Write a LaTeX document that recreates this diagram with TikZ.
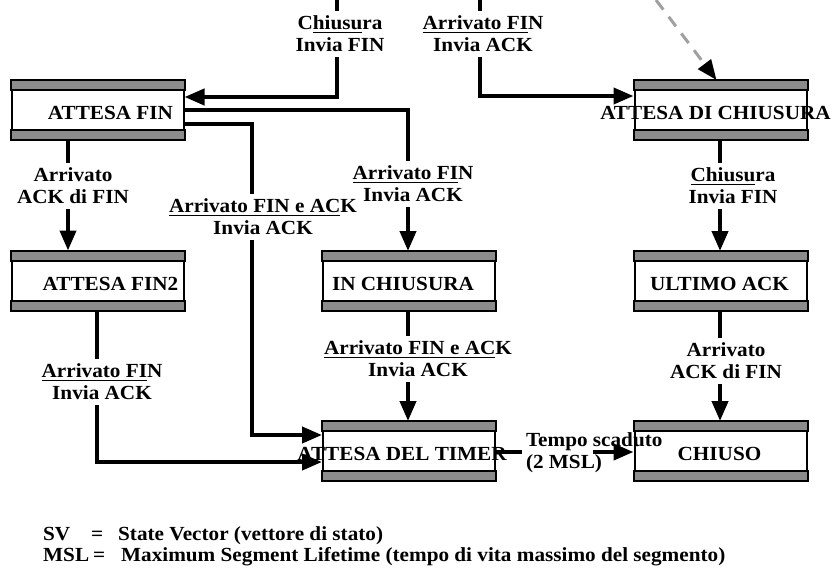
\documentclass[tikz,border=0pt]{standalone}
\usepackage{fontspec}
\setmainfont{Liberation Serif}[FakeStretch=1.06]
\usetikzlibrary{arrows.meta,calc}
\definecolor{barg}{HTML}{8C8C8C}
\definecolor{dashg}{HTML}{A0A0A0}
\newcommand\ulx[1]{\setbox0\hbox{#1}\rlap{\rule[-3pt]{\wd0}{1.3pt}}\box0}
\newcommand\shiftx[2]{\makebox[0pt]{\kern#1 #2}}
\begin{document}
\begin{tikzpicture}[x=1pt,y=-1pt,
  every node/.style={font=\fontsize{20}{22}\selectfont\bfseries},
  conn/.style={line width=4pt},
  arr/.style={conn,-{Triangle[length=20pt,width=16pt]}},
  state/.style={draw,line width=2pt,minimum width=172pt,minimum height=58pt,inner sep=0pt,text height=19pt,text depth=0pt},
  bar/.style={draw,line width=2pt,fill=barg},
  lab/.style={align=center,inner xsep=0pt,inner ysep=5pt},
  legend/.style={anchor=base west,inner sep=0pt}]
\useasboundingbox (0,0) rectangle (832,568);
% states
\node[state] (afin)   at (97.5,110)   {\shiftx{26pt}{ATTESA FIN}};
\node[state] (adc)    at (720.5,110)  {\shiftx{-10pt}{ATTESA DI CHIUSURA}};
\node[state] (afin2)  at (97.5,280.5) {\shiftx{26pt}{ATTESA FIN2}};
\node[state] (inch)   at (409,281)    {\shiftx{-12pt}{IN CHIUSURA}};
\node[state] (ultack) at (720.5,281)  {\shiftx{-2pt}{ULTIMO ACK}};
\node[state] (timer)  at (409,451)    {\shiftx{-14pt}{ATTESA DEL TIMER}};
\node[state] (chiuso) at (720.5,451)  {\shiftx{-2pt}{CHIUSO}};
\foreach \n in {afin,adc,afin2,inch,ultack,timer,chiuso}{
  \draw[bar] (\n.north west) rectangle ($(\n.north east)+(0,10)$);
  \draw[bar] (\n.south west) rectangle ($(\n.south east)+(0,-10)$);
}
% labels
\node[lab] (l1) at (340,34)  {C\ulx{hiusu}ra\\Invia FIN};
\node[lab] (l2) at (483,34)  {\ulx{Arrivato FI}N\\Invia ACK};
\node[lab] (l3) at (73,186)  {Arrivato\\ACK di FIN};
\node[lab] (l4) at (413,184) {\ulx{Arrivato FI}N\\Invia ACK};
\node[lab] (l5) at (263,217) {\ulx{Arrivato FIN e AC}K\\Invia ACK};
\node[lab] (l6) at (102,382) {\ulx{Arrivato FI}N\\Invia ACK};
\node[lab] (l7) at (418,359) {\ulx{Arrivato FIN e AC}K\\Invia ACK};
\node[lab] (l8) at (733,186) {\ulx{Chiusu}ra\\Invia FIN};
\node[lab] (l9) at (726,361) {Arrivato\\ACK di FIN};
\node[align=left,anchor=west,inner sep=0pt,outer xsep=4pt] (l10) at (522,453) {Tempo scaduto\\(2 MSL)};
% free ends
\coordinate (top1) at (337,0);
\coordinate (top2) at (480,0);
\coordinate (top3) at (656,0);
\coordinate (ts) at (593,452);
% connectors
\draw[conn] (top1) -- (top1 |- l1.north);
\draw[arr] (l1.south -| top1) |- ($(afin.east)+(0,-13)$);
\draw[conn] (top2) -- (top2 |- l2.north);
\draw[arr] (l2.south -| top2) |- ($(adc.west)+(0,-14)$);
\draw[line width=3pt,dashg,dash pattern=on 12pt off 9pt,-{Triangle[length=20pt,width=16pt,color=black]}] (top3) -- ($(adc.north west)+(83,0)$);
\draw[conn] (afin.south -| 68,0) -- (l3.north -| 68,0);
\draw[arr] (l3.south -| 68,0) -- (afin2.north -| 68,0);
\draw[conn] (afin.east) -| (l4.north -| 408,0);
\draw[arr] (l4.south -| 408,0) -- (inch.north -| 408,0);
\draw[conn] ($(afin.east)+(0,14)$) -| (l5.north -| 252,0);
\draw[arr] (l5.south -| 252,0) |- ($(timer.west)+(0,-16)$);
\draw[conn] (afin2.south -| 97,0) -- (l6.north -| 97,0);
\draw[arr] (l6.south -| 97,0) |- ($(timer.west)+(0,11)$);
\draw[conn] (inch.south -| 408,0) -- (l7.north -| 408,0);
\draw[arr] (l7.south -| 408,0) -- (timer.north -| 408,0);
\draw[conn] (adc.south -| 720,0) -- (l8.north -| 720,0);
\draw[arr] (l8.south -| 720,0) -- (ultack.north -| 720,0);
\draw[conn] (ultack.south -| 720,0) -- (l9.north -| 720,0);
\draw[arr] (l9.south -| 720,0) -- (chiuso.north -| 720,0);
\draw[conn] ($(timer.east)+(0,1)$) -- (l10.west |- ts);
\draw[arr] (ts) -- (chiuso.west |- ts);
% legend
\node[legend] (lg1) at (43,540) {\makebox[48pt][l]{SV}\makebox[27pt][l]{=}State Vector (vettore di stato)};
\node[legend] (lg2) at (43,561) {\makebox[50pt][l]{MSL}\makebox[28pt][l]{=}Maximum Segment Lifetime (tempo di vita massimo del segmento)};
\end{tikzpicture}
\end{document}
